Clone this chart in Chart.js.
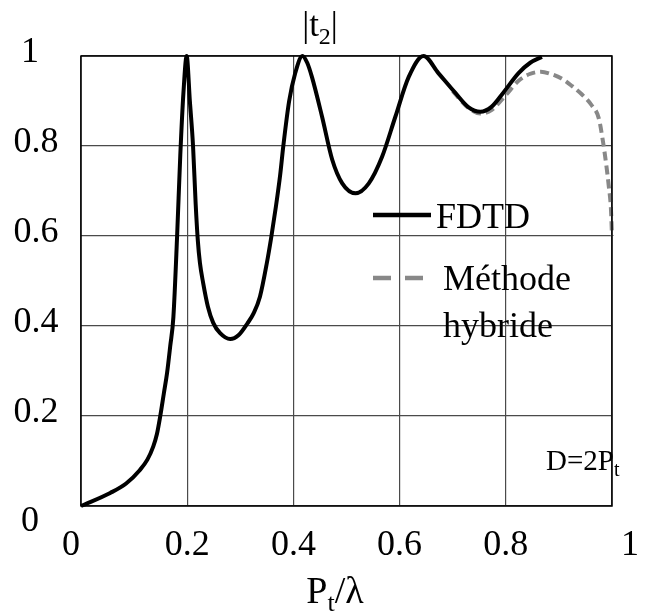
<!DOCTYPE html>
<html>
<head>
<meta charset="utf-8">
<script src="https://cdn.jsdelivr.net/npm/chart.js@4/dist/chart.umd.min.js"></script>
<style>
  html, body { margin: 0; background: #fff; }
  #wrap { width: 645px; height: 611px; }
</style>
</head>
<body>
<div id="wrap"><canvas id="chart-t2"></canvas></div>
<script>
// |t2| versus Pt/lambda
const fdtdX = [0, 0.055, 0.085, 0.111, 0.125, 0.136, 0.143, 0.149, 0.156, 0.162,
               0.168, 0.174, 0.181, 0.187, 0.193, 0.199, 0.205, 0.211, 0.216, 0.220,
               0.224, 0.230, 0.239, 0.249, 0.262, 0.281, 0.297, 0.313, 0.325, 0.337,
               0.350, 0.358, 0.367, 0.375, 0.381, 0.392, 0.403, 0.417, 0.426, 0.435,
               0.454, 0.473, 0.492, 0.517, 0.542, 0.567, 0.592, 0.617, 0.645, 0.673,
               0.705, 0.730, 0.752, 0.773, 0.795, 0.824, 0.846, 0.868];
const fdtdY = [0, 0.029, 0.050, 0.080, 0.103, 0.132, 0.160, 0.198, 0.250, 0.295,
               0.355, 0.420, 0.600, 0.780, 0.920, 1.000, 0.900, 0.800, 0.670, 0.590,
               0.540, 0.496, 0.443, 0.407, 0.384, 0.371, 0.380, 0.405, 0.428, 0.465,
               0.540, 0.595, 0.665, 0.735, 0.800, 0.900, 0.960, 1.000, 0.985, 0.953,
               0.865, 0.770, 0.717, 0.695, 0.717, 0.776, 0.865, 0.953, 1.000, 0.962,
               0.918, 0.886, 0.876, 0.887, 0.918, 0.962, 0.985, 0.998];

const hybridX = [0.700, 0.730, 0.752, 0.773, 0.800, 0.824, 0.845, 0.866, 0.885, 0.905,
                 0.925, 0.943, 0.962, 0.975, 0.983, 0.989, 0.994, 0.998, 1.000];
const hybridY = [0.922, 0.884, 0.872, 0.880, 0.913, 0.945, 0.960, 0.965, 0.960, 0.950,
                 0.933, 0.915, 0.890, 0.862, 0.810, 0.760, 0.710, 0.660, 0.600];

const seriesNames = ['FDTD', 'Méthode hybride'];

const xTicks      = [0, 0.2, 0.4, 0.6, 0.8, 1];
const xTickLabels = ['0', '0.2', '0.4', '0.6', '0.8', '1'];
const yTicks      = [0, 0.2, 0.4, 0.6, 0.8, 1];
const yTickLabels = ['0', '0.2', '0.4', '0.6', '0.8', '1'];

const FONT = '"Liberation Serif", "Times New Roman", serif';

function pts(xs, ys) {
    return xs.map((x, i) => ({ x, y: ys[i] }));
}

// text with optional subscript pieces: [[text, isSub], ...]
function drawRich(ctx, parts, x, y, size, align) {
    const subSize = Math.round(size * 0.68);
    let w = 0;
    for (const [t, sub] of parts) {
        ctx.font = `${sub ? subSize : size}px ${FONT}`;
        w += ctx.measureText(t).width;
    }
    let cx = align === 'center' ? x - w / 2 : x;
    ctx.textAlign = 'left';
    ctx.textBaseline = 'alphabetic';
    for (const [t, sub] of parts) {
        ctx.font = `${sub ? subSize : size}px ${FONT}`;
        ctx.fillText(t, cx, sub ? y + size * 0.22 : y);
        cx += ctx.measureText(t).width;
    }
}

const decor = {
    id: 'decor',
    afterDraw(chart) {
        const { ctx, chartArea: a, scales: { x, y } } = chart;
        ctx.save();

        // frame
        ctx.strokeStyle = '#000';
        ctx.lineWidth = 1.5;
        ctx.strokeRect(a.left, a.top, a.right - a.left, a.bottom - a.top);

        ctx.fillStyle = '#000';
        ctx.font = `36px ${FONT}`;
        ctx.textAlign = 'center';
        ctx.textBaseline = 'middle';

        // x tick labels
        xTicks.forEach((v, i) => {
            let px = x.getPixelForValue(v);
            if (i === 0) px -= 10;
            if (i === xTicks.length - 1) px += 18;
            ctx.fillText(xTickLabels[i], px, a.bottom + 40);
        });
        // y tick labels
        yTicks.forEach((v, i) => {
            let py = y.getPixelForValue(v) - 3;
            let px = 36;
            if (i === 0) { py += 19; px = 30; }
            if (i === yTicks.length - 1) px = 30;
            ctx.fillText(yTickLabels[i], px, py);
        });

        // titles
        drawRich(ctx, [['|t', false], ['2', true], ['|', false]], 320, 36, 35, 'center');
        drawRich(ctx, [['P', false], ['t', true], ['/λ', false]], 335, 603, 38, 'center');
        drawRich(ctx, [['D=2P', false], ['t', true]], 546, 470, 29, 'left');

        // legend
        chart.data.datasets.forEach((ds, i) => {
            const ly = i === 0 ? 215 : 278;
            ctx.beginPath();
            ctx.strokeStyle = ds.borderColor;
            ctx.lineWidth = 4.5;
            ctx.setLineDash(i === 0 ? [] : [18, 14]);
            ctx.moveTo(373, ly);
            ctx.lineTo(i === 0 ? 431 : 424, ly);
            ctx.stroke();
        });
        ctx.setLineDash([]);
        ctx.fillStyle = '#000';
        ctx.font = `36px ${FONT}`;
        ctx.textAlign = 'left';
        ctx.textBaseline = 'alphabetic';
        ctx.fillText(seriesNames[0], 436, 228);
        const words = seriesNames[1].split(' ');
        ctx.fillText(words[0], 443, 290);
        ctx.fillText(words[1], 443, 337);

        ctx.restore();
    }
};

new Chart(document.getElementById('chart-t2'), {
    type: 'line',
    data: {
        datasets: [
            {
                label: seriesNames[0],
                data: pts(fdtdX, fdtdY),
                borderColor: '#000',
                borderWidth: 4,
                pointRadius: 0,
                cubicInterpolationMode: 'monotone',
                clip: false,
                order: 1,
            },
            {
                label: seriesNames[1],
                data: pts(hybridX, hybridY),
                borderColor: '#888888',
                borderWidth: 4,
                borderDash: [9, 5],
                pointRadius: 0,
                cubicInterpolationMode: 'monotone',
                clip: false,
                order: 2,
            },
        ],
    },
    options: {
        responsive: true,
        maintainAspectRatio: false,
        animation: false,
        devicePixelRatio: 1,
        layout: { padding: { left: 0, top: 56, right: 33, bottom: 0 } },
        plugins: {
            legend: { display: false },
            tooltip: { enabled: false },
            title: { display: false },
        },
        scales: {
            x: {
                type: 'linear',
                min: 0, max: 1,
                afterBuildTicks: s => { s.ticks = xTicks.map(v => ({ value: v })); },
                afterFit: s => { s.height = 105; },
                ticks: { display: false },
                grid: { color: '#4a4a4a', lineWidth: 1.2, drawTicks: false },
                border: { display: false },
            },
            y: {
                type: 'linear',
                min: 0, max: 1,
                afterBuildTicks: s => { s.ticks = yTicks.map(v => ({ value: v })); },
                afterFit: s => { s.width = 81; },
                ticks: { display: false },
                grid: { color: '#4a4a4a', lineWidth: 1.2, drawTicks: false },
                border: { display: false },
            },
        },
    },
    plugins: [decor],
});
</script>
</body>
</html>
